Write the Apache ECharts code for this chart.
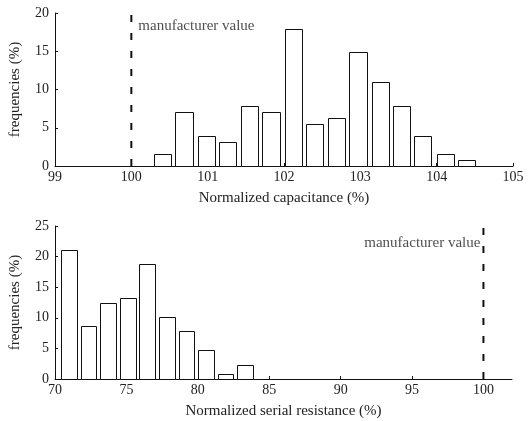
<!DOCTYPE html>
<html>
<head>
<meta charset="utf-8">
<script src="https://cdn.jsdelivr.net/npm/echarts@6/dist/echarts.min.js"></script>
<style>html,body{margin:0;padding:0;background:#fff}#c{width:529px;height:421px}</style>
</head>
<body>
<div id="c"></div>
<script>
// ---- data ----
var capCenters = [100.41, 100.69, 100.98, 101.26, 101.55, 101.83, 102.12, 102.40, 102.69, 102.97, 103.26, 103.54, 103.82, 104.11, 104.39];
var capFreq = [1.56, 7.03, 3.91, 3.13, 7.81, 7.03, 17.97, 5.47, 6.25, 14.84, 10.94, 7.81, 3.91, 1.56, 0.78];
var resCenters = [70.98, 72.35, 73.72, 75.09, 76.46, 77.83, 79.20, 80.57, 81.94, 83.31];
var resFreq = [21.09, 8.59, 12.50, 13.28, 18.75, 10.16, 7.81, 4.69, 0.78, 2.34];
var manufacturerValue = 100;
var capLabelY = 18.3;
var resLabelY = 22.2;
var capXTitle = 'Normalized capacitance (%)';
var resXTitle = 'Normalized serial resistance (%)';
var yTitle = 'frequencies (%)';
var refLabel = 'manufacturer value';

var FONT = 'Liberation Serif';
var TXT = '#222';

function pairs(xs, ys) { return xs.map(function (x, i) { return [x, ys[i]]; }); }

function histSeries(centers, freqs, idx) {
  var step = centers[1] - centers[0];
  var w = step * 0.8;
  return {
    type: 'custom', xAxisIndex: idx, yAxisIndex: idx,
    data: pairs(centers, freqs),
    renderItem: function (params, api) {
      var c = api.value(0), v = api.value(1);
      var p0 = api.coord([c - w / 2, v]);
      var p1 = api.coord([c + w / 2, 0]);
      var x0 = Math.round(p0[0]) + 0.5, x1 = Math.round(p1[0]) + 0.5;
      var y0 = Math.round(p0[1]) + 0.5, y1 = Math.round(p1[1]) + 0.5;
      return { type: 'rect', shape: { x: x0, y: y0, width: x1 - x0, height: y1 - y0 },
        style: { fill: '#fff', stroke: '#111', lineWidth: 1 } };
    },
    z: 3
  };
}

function refLine(idx, ymax) {
  return {
    type: 'line', xAxisIndex: idx, yAxisIndex: idx,
    data: [[manufacturerValue, 0], [manufacturerValue, ymax]],
    symbol: 'none', silent: true,
    lineStyle: { color: '#111', width: 2, type: [7, 11] }, z: 4
  };
}

function refText(idx, y, pos) {
  return {
    type: 'scatter', xAxisIndex: idx, yAxisIndex: idx,
    data: [[manufacturerValue, y]], symbolSize: 0, silent: true,
    label: { show: true, position: pos, distance: pos === 'right' ? 7 : 3, formatter: refLabel,
      fontFamily: FONT, fontSize: 15, color: TXT }
  };
}

function xAxis(idx, min, max, name) {
  return {
    type: 'value', gridIndex: idx, min: min, max: max, interval: idx === 0 ? 1 : 5,
    name: name, nameLocation: 'middle', nameGap: 25,
    nameTextStyle: { fontFamily: FONT, fontSize: 15, color: TXT },
    axisLine: { show: true, onZero: false, lineStyle: { color: '#111', width: 1 } },
    axisTick: { show: true, inside: true, length: 3, lineStyle: { color: '#111' } },
    axisLabel: { fontFamily: FONT, fontSize: 14, color: TXT, margin: 4, showMaxLabel: idx === 0 },
    splitLine: { show: false }
  };
}

function yAxis(idx, max) {
  return {
    type: 'value', gridIndex: idx, min: 0, max: max, interval: 5,
    name: yTitle, nameLocation: 'middle', nameGap: 32,
    nameTextStyle: { fontFamily: FONT, fontSize: 15, color: TXT },
    axisLine: { show: true, lineStyle: { color: '#111', width: 1 } },
    axisTick: { show: true, inside: true, length: 3, lineStyle: { color: '#111' } },
    axisLabel: { fontFamily: FONT, fontSize: 14, color: TXT, margin: 6 },
    splitLine: { show: false }
  };
}

var chart = echarts.init(document.getElementById('c'), null, { renderer: 'canvas' });
chart.setOption({
  animation: false,
  backgroundColor: '#fff',
  grid: [
    { left: 54, right: 16, top: 13, height: 153, containLabel: false },
    { left: 54, right: 17, top: 226, height: 153, containLabel: false }
  ],
  xAxis: [xAxis(0, 99, 105, capXTitle), xAxis(1, 70, 102, resXTitle)],
  yAxis: [yAxis(0, 20), yAxis(1, 25)],
  series: [
    histSeries(capCenters, capFreq, 0),
    histSeries(resCenters, resFreq, 1),
    refLine(0, 20), refLine(1, 25),
    refText(0, capLabelY, 'right'), refText(1, resLabelY, 'left')
  ]
});
</script>
</body>
</html>
